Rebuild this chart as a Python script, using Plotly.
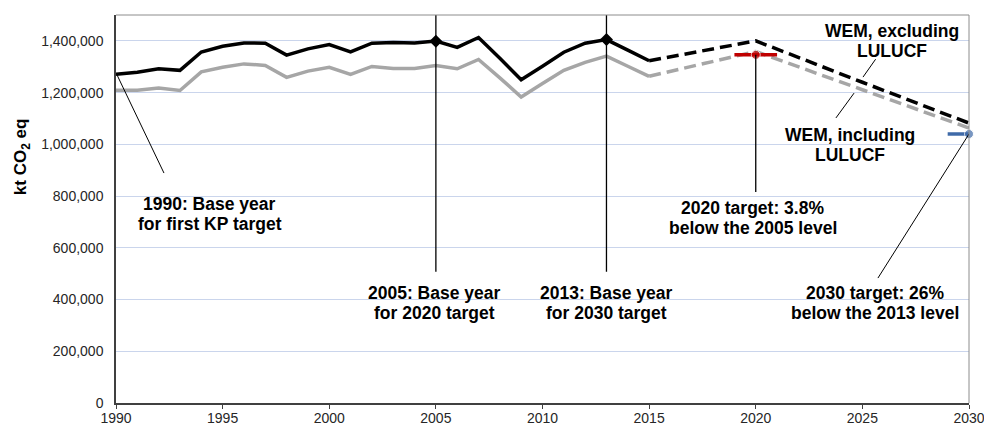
import plotly.graph_objects as go

# ---------------- data ----------------
hist_years = list(range(1990, 2016))
excl_lulucf = [1271000, 1279000, 1292000, 1286000, 1357000, 1379000, 1392000, 1391000,
               1345000, 1369000, 1386000, 1357000, 1391000, 1394000, 1392000, 1399000,
               1375000, 1413000, 1333000, 1250000, 1302000, 1356000, 1391000, 1405000,
               1364000, 1323000]
incl_lulucf = [1209000, 1209000, 1218000, 1208000, 1280000, 1298000, 1311000, 1305000,
               1259000, 1283000, 1298000, 1270000, 1301000, 1293000, 1293000, 1305000,
               1292000, 1328000, 1257000, 1183000, 1235000, 1286000, 1317000, 1341000,
               1302000, 1263000]

proj_years = [2015, 2020, 2025, 2030]
proj_excl = [1323000, 1400000, 1240000, 1082000]
proj_incl = [1263000, 1359000, 1211000, 1063000]

base_years = [2005, 2013]
base_values = [1399000, 1405000]

target2020_years = [2019, 2020, 2021]
target2020_values = [1346000, 1346000, 1346000]
target2030_years = [2029, 2030]
target2030_values = [1040000, 1040000]

x_ticks = list(range(1990, 2031, 5))
y_ticks = list(range(0, 1400001, 200000))

# annotation texts (two lines each) and anchor positions (year, value)
labels = [
    ("1990: Base year", "for first KP target"),
    ("2005: Base year", "for 2020 target"),
    ("2013: Base year", "for 2030 target"),
    ("2020 target: 3.8%", "below the 2005 level"),
    ("2030 target: 26%", "below the 2013 level"),
    ("WEM, excluding", "LULUCF"),
    ("WEM, including", "LULUCF"),
]
label_x = [1994.4, 2004.95, 2013.0, 2019.85, 2025.6, 2026.4, 2024.4]
label_y = [731000, 387000, 387000, 715000, 387000, 1400000, 997000]

# leader lines: (x0, y0, x1, y1)
leaders = [
    (1990.05, 1268000, 1992.25, 889000),
    (2005, 1500000, 2005, 507000),
    (2013, 1500000, 2013, 507000),
    (2020, 1346000, 2020, 816000),
    (2030, 1040000, 2025.73, 483000),
    (2025.62, 1329000, 2025.03, 1260000),
    (2024.61, 1198000, 2023.76, 1102000),
]
leader_w = [1, 1.3, 1.3, 1.3, 1, 1, 1]

FONT = "Liberation Sans, Arial, sans-serif"

# ---------------- figure ----------------
fig = go.Figure()

fig.add_trace(go.Scatter(x=hist_years, y=incl_lulucf, mode="lines",
                         line=dict(color="#A6A6A6", width=3.5), showlegend=False))
fig.add_trace(go.Scatter(x=hist_years, y=excl_lulucf, mode="lines",
                         line=dict(color="#000000", width=3.5), showlegend=False))
fig.add_trace(go.Scatter(x=proj_years, y=proj_incl, mode="lines",
                         line=dict(color="#A6A6A6", width=3.5, dash="12px,6px"),
                         showlegend=False))
fig.add_trace(go.Scatter(x=proj_years, y=proj_excl, mode="lines",
                         line=dict(color="#000000", width=3.5, dash="12px,6px"),
                         showlegend=False))
fig.add_trace(go.Scatter(x=base_years, y=base_values, mode="markers",
                         marker=dict(symbol="diamond", size=10, color="#000000"),
                         showlegend=False, cliponaxis=False))
fig.add_trace(go.Scatter(x=target2020_years, y=target2020_values, mode="lines+markers",
                         line=dict(color="#C00000", width=3.5),
                         marker=dict(size=[0, 9, 0], color="#C00000"),
                         showlegend=False, cliponaxis=False))
fig.add_trace(go.Scatter(x=target2030_years, y=target2030_values, mode="lines+markers",
                         line=dict(color="#3F6AA8", width=3.5),
                         marker=dict(size=[0, 9], color="#3F6AA8"),
                         showlegend=False, cliponaxis=False))

shapes = []
for (x0, y0, x1, y1), w in zip(leaders, leader_w):
    shapes.append(dict(type="line", xref="x", yref="y", x0=x0, y0=y0, x1=x1, y1=y1,
                       line=dict(color="#000000", width=w), layer="above"))
# top and right frame
shapes.append(dict(type="line", xref="paper", yref="paper", x0=0, y0=1, x1=1, y1=1,
                   line=dict(color="#8C8C8C", width=1)))
shapes.append(dict(type="line", xref="paper", yref="paper", x0=1, y0=0, x1=1, y1=1,
                   line=dict(color="#8C8C8C", width=1)))

annotations = []
for (l1, l2), x, y in zip(labels, label_x, label_y):
    for txt, shift in ((l1, 10), (l2, -10)):
        annotations.append(dict(text="<b>" + txt + "</b>", x=x, y=y, xref="x", yref="y",
                                yshift=shift, showarrow=False,
                                xanchor="center", yanchor="middle", align="center",
                                font=dict(size=17.5, color="#000000", family=FONT)))
annotations.append(dict(text="<b>kt CO<sub>2</sub> eq</b>", x=-0.11, y=0.634,
                        xref="paper", yref="paper", showarrow=False, textangle=-90,
                        xanchor="center", yanchor="middle",
                        font=dict(size=17, color="#000000", family=FONT)))

fig.update_layout(
    width=984, height=426,
    margin=dict(l=116, r=15, t=15, b=23),
    paper_bgcolor="white", plot_bgcolor="white",
    font=dict(family=FONT, color="#404040", size=14),
    shapes=shapes, annotations=annotations,
    xaxis=dict(range=[1990, 2030], tickvals=x_ticks, ticks="outside", ticklen=4,
               tickcolor="#404040", showline=True, linecolor="#404040", linewidth=1.5,
               showgrid=False, zeroline=False, automargin=False,
               ticklabeloverflow="allow", ticklabelstandoff=-3,
               tickfont=dict(size=14, color="#262626")),
    yaxis=dict(range=[0, 1500000], tickvals=y_ticks, tickformat=",", ticks="",
               showline=True, linecolor="#404040", linewidth=1.5, automargin=False,
               showgrid=True, gridcolor="#CAD5EC", gridwidth=1, zeroline=False,
               ticklabelstandoff=8, tickfont=dict(size=14, color="#262626")),
)

fig.write_html(
    "out.html",
    config={"displayModeBar": False},
    post_script="document.body.style.margin='0';document.body.style.overflow='hidden';",
)
